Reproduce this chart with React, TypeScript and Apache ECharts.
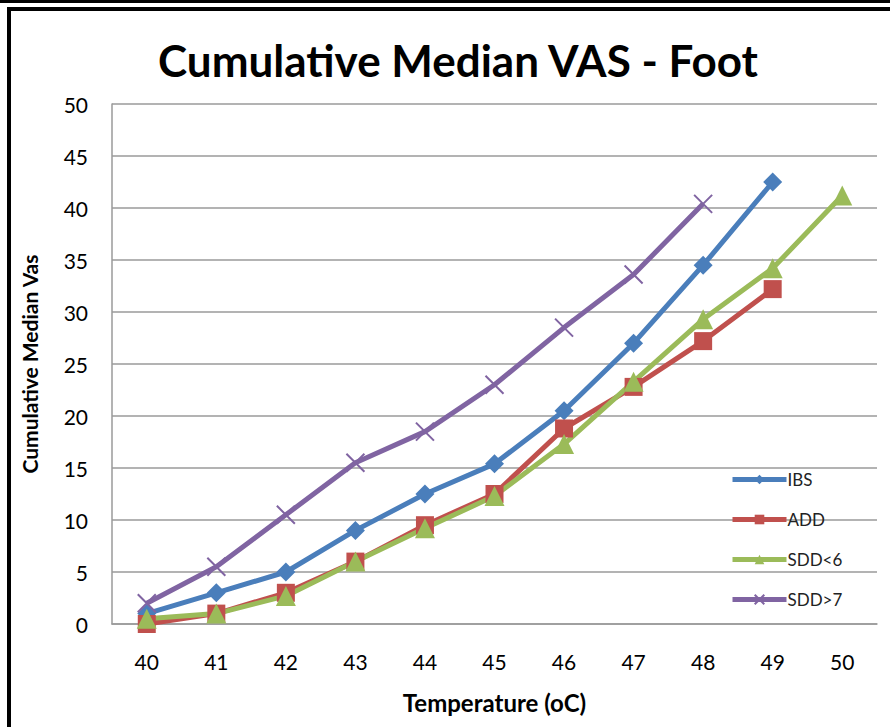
import React, { useEffect, useRef } from "react";
import * as echarts from "echarts";

const categories = ["40", "41", "42", "43", "44", "45", "46", "47", "48", "49", "50"];
const ibs = [1, 3, 5, 9, 12.5, 15.4, 20.5, 27, 34.5, 42.5, null];
const add = [0, 1, 3, 6, 9.5, 12.5, 18.8, 22.8, 27.2, 32.2, null];
const sdd6 = [0.5, 1, 2.7, 6, 9.2, 12.3, 17.3, 23.3, 29.3, 34.2, 41.2];
const sdd7 = [2, 5.5, 10.5, 15.5, 18.5, 23, 28.5, 33.6, 40.4, null, null];

const FONT = "Lato";
const XMARK = "path://M0,0L10,10M10,0L0,10";

export default function App() {
  const ref = useRef<HTMLDivElement>(null);
  useEffect(() => {
    const chart = echarts.init(ref.current!, null, { renderer: "svg" });
    const mk = (name: string, data: any[], color: string, symbol: string, size: number, extra: any = {}) => ({
      name,
      type: "line",
      data,
      symbol,
      symbolSize: size,
      lineStyle: { color, width: 5 },
      itemStyle: { color, ...extra },
      connectNulls: false,
    });
    chart.setOption({
      animation: false,
      backgroundColor: "#ffffff",
      textStyle: { fontFamily: FONT },
      title: {
        text: "Cumulative Median VAS - Foot",
        left: 453,
        textAlign: "center",
        top: 33,
        textStyle: { fontFamily: FONT, fontWeight: "bold", fontSize: 44, color: "#000" },
      },
      graphic: [
        { type: "rect", shape: { x: 0, y: 0, width: 890, height: 3 }, style: { fill: "#000" } },
        { type: "rect", shape: { x: 7, y: 7, width: 883, height: 4 }, style: { fill: "#000" } },
        { type: "rect", shape: { x: 7, y: 7, width: 4, height: 720 }, style: { fill: "#000" } },
      ],
      legend: {
        orient: "vertical",
        left: 725,
        top: 466,
        itemWidth: 54,
        itemHeight: 12,
        itemGap: 23,
        lineStyle: { width: 5 },
        textStyle: { fontFamily: FONT, fontSize: 17, color: "#222", padding: [0, 0, 0, -4] },
        data: ["IBS", "ADD", "SDD<6", "SDD>7"],
      },
      grid: { left: 112, right: 13, top: 104, bottom: 103, containLabel: false },
      xAxis: {
        type: "category",
        data: categories,
        boundaryGap: true,
        axisLine: { lineStyle: { color: "#9a9a9a", width: 1.5 } },
        axisTick: { show: false },
        axisLabel: { fontFamily: FONT, fontSize: 21, color: "#000", margin: 27 },
        name: "Temperature (oC)",
        nameLocation: "middle",
        nameGap: 66,
        nameTextStyle: { fontFamily: FONT, fontWeight: "bold", fontSize: 24, color: "#000" },
      },
      yAxis: {
        type: "value",
        min: 0,
        max: 50,
        interval: 5,
        axisLine: { show: true, lineStyle: { color: "#9a9a9a", width: 1.5 } },
        axisTick: { show: false },
        splitLine: { lineStyle: { color: "#9a9a9a", width: 1.5 } },
        axisLabel: { fontFamily: FONT, fontSize: 21, color: "#000", margin: 24 },
        name: "Cumulative Median Vas",
        nameLocation: "middle",
        nameRotate: 90,
        nameGap: 72,
        nameTextStyle: { fontFamily: FONT, fontWeight: "bold", fontSize: 21, color: "#000" },
      },
      series: [
        mk("IBS", ibs, "#4A7EBB", "diamond", 19),
        mk("ADD", add, "#C0504D", "rect", 18),
        mk("SDD<6", sdd6, "#9BBB59", "triangle", 20),
        mk("SDD>7", sdd7, "#8064A2", XMARK, 18, { borderColor: "#8064A2", borderWidth: 2 }),
      ],
    });
    return () => chart.dispose();
  }, []);
  return <div ref={ref} style={{ width: 890, height: 727, position: "absolute", left: 0, top: 0 }} />;
}
